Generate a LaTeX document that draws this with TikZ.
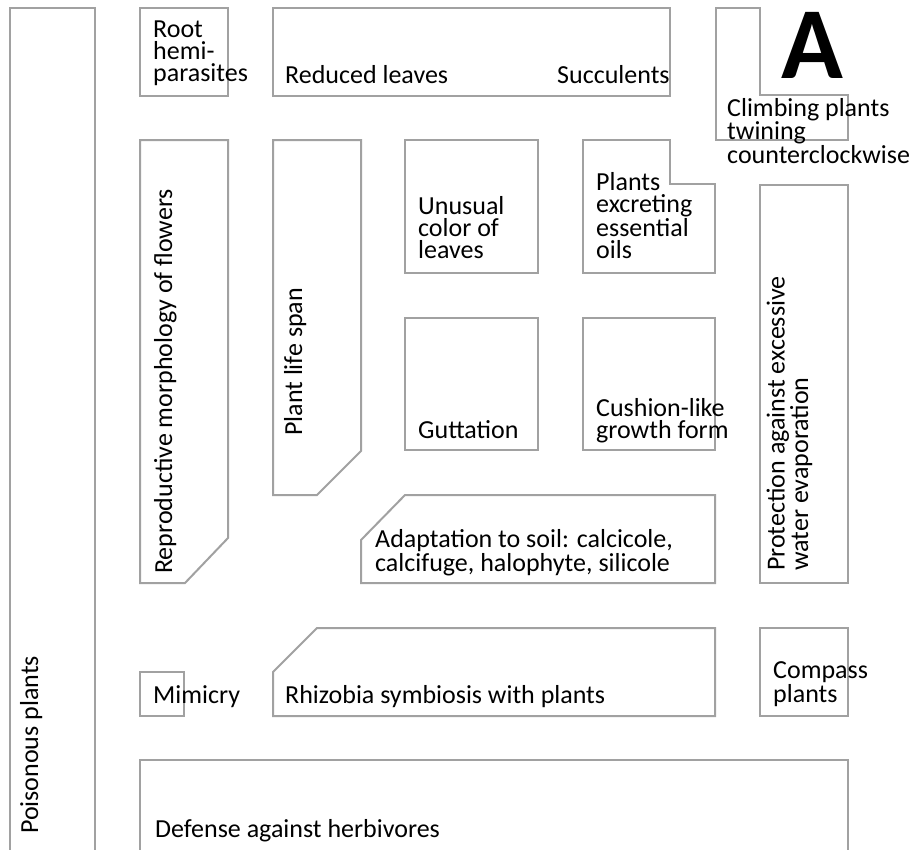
\documentclass[tikz,border=0pt]{standalone}
\usepackage{fontspec}
\setmainfont{Carlito}
\usetikzlibrary{positioning}
\tikzset{
  field/.style={draw=black!37, line width=2pt, line join=miter},
  lbl/.style={anchor=base west, inner sep=0pt, align=left,
    font=\fontsize{26}{22}\selectfont},
  vlbl/.style={lbl, rotate=90},
  big/.style={anchor=base, inner sep=0pt, font=\fontsize{102}{102}\selectfont\bfseries}
}

\begin{document}
\begin{tikzpicture}[x=1pt, y=-1pt]
    \useasboundingbox (0,0) rectangle (909,849);

    % outline of the fields
    \draw[field] (10,852) -- (10,8) -- (95,8) -- (95,852);
    \draw[field] (140,8) rectangle (228,96);
    \draw[field] (273,8) rectangle (670,96);
    \draw[field] (716,8) -- (760,8) -- (760,95) -- (848,95) -- (848,140) -- (716,140) -- cycle;
    \draw[field] (140,140) -- (228,140) -- (228,538) -- (185,583) -- (140,583) -- cycle;
    \draw[field] (273,140) -- (361,140) -- (361,451) -- (317,495) -- (273,495) -- cycle;
    \draw[field] (405,140) rectangle (538,273);
    \draw[field] (583,140) -- (670,140) -- (670,184) -- (715,184) -- (715,273) -- (583,273) -- cycle;
    \draw[field] (760,185) rectangle (848,583);
    \draw[field] (405,318) rectangle (538,450);
    \draw[field] (583,318) rectangle (715,450);
    \draw[field] (405,495) -- (715,495) -- (715,583) -- (361,583) -- (361,540) -- cycle;
    \draw[field] (140,672) rectangle (184,716);
    \draw[field] (317,628) -- (715,628) -- (715,716) -- (273,716) -- (273,672) -- cycle;
    \draw[field] (760,628) rectangle (848,716);
    \draw[field] (140,852) -- (140,760) -- (848,760) -- (848,852);

    % texts (multi-line nodes sit on their last line)
    \node[vlbl] (poison) at (38,834) {Poisonous plants};
    \node[lbl] (roothemi) at (153,81) {Root\\hemi-\\parasites};
    \node[lbl] (reduced) at (285,83) {Reduced leaves};
    \node[lbl] (succ) at (557,83) {Succulents};
    \node[lbl] (climb) at (727,163) {Climbing plants\\twining\\counterclockwise};
    \node[big] (letA) at (812,78) {A};
    \node[vlbl] (repro) at (172,574) {Reproductive morphology of flowers};
    \node[vlbl] (lifespan) at (302,436) {Plant life span};
    \node[lbl] (colour) at (418,258) {Unusual\\color of\\leaves};
    \node[lbl] (oils) at (596,258) {Plants\\excreting\\essential\\oils};
    \node[vlbl] (evapo) at (808,571) {Protection against excessive\\water evaporation};
    \node[lbl] (gutt) at (418,438) {Guttation};
    \node[lbl] (cushion) at (596,438) {Cushion-like\\growth form};
    \node[lbl] (soil) at (375,571) {Adaptation to soil: calcicole,\\calcifuge, halophyte, silicole};
    \node[lbl] (mimic) at (153,703) {Mimicry};
    \node[lbl] (rhizo) at (285,703) {Rhizobia symbiosis with plants};
    \node[lbl] (compass) at (773,702) {Compass\\plants};
    \node[lbl] (defense) at (155,837) {Defense against herbivores};
\end{tikzpicture}
\end{document}
